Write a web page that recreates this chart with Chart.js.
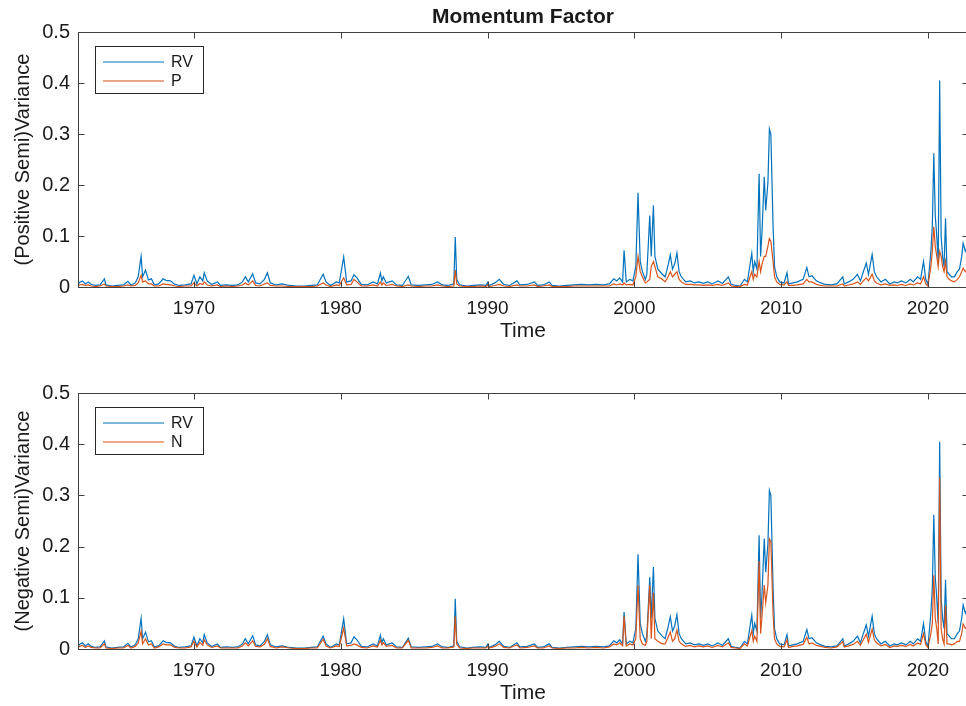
<!DOCTYPE html>
<html>
<head>
<meta charset="utf-8">
<script src="https://cdn.jsdelivr.net/npm/chart.js"></script>
<style>
  body { margin: 0; background: #fff; overflow: hidden; }
  .panel { position: absolute; left: 0; width: 970px; height: 353px; }
</style>
</head>
<body>
<div class="panel" style="top:0"><canvas id="posChart" width="970" height="353"></canvas></div>
<div class="panel" style="top:353px"><canvas id="negChart" width="970" height="353"></canvas></div>

<script>
// monthly momentum factor variance, realized and semi-variances
const years = [
  1962.1, 1962.2, 1962.4, 1962.6, 1962.8, 1963.0, 1963.3, 1963.6, 1963.9, 1964.0, 1964.4, 1964.8, 1965.2, 1965.5, 1965.7, 1966.0,
  1966.2, 1966.4, 1966.5, 1966.7, 1966.9, 1967.1, 1967.3, 1967.6, 1967.9, 1968.1, 1968.4, 1968.7, 1969.0, 1969.4, 1969.8,
  1970.0, 1970.2, 1970.4, 1970.6, 1970.7, 1970.9, 1971.2, 1971.6, 1971.8, 1972.2, 1972.6, 1973.0, 1973.3, 1973.5, 1973.7, 1974.0,
  1974.2, 1974.5, 1974.8, 1975.0, 1975.2, 1975.6, 1976.0, 1976.5, 1977.0, 1977.5, 1978.0, 1978.4, 1978.8, 1979.0, 1979.3, 1979.7, 1979.9,
  1980.2, 1980.4, 1980.7, 1980.9, 1981.1, 1981.4, 1981.8, 1982.2, 1982.5, 1982.7, 1982.8, 1982.9, 1983.1, 1983.5, 1983.8, 1984.2,
  1984.6, 1984.8, 1985.3, 1985.8, 1986.2, 1986.6, 1986.9, 1987.3, 1987.7, 1987.8, 1987.9, 1988.1, 1988.6, 1989.0, 1989.5, 1989.9,
  1990.0, 1990.1, 1990.5, 1990.8, 1991.1, 1991.5, 1992.0, 1992.2, 1992.7, 1993.2, 1993.4, 1993.8, 1994.2, 1994.4, 1994.9,
  1995.4, 1995.9, 1996.4, 1996.9, 1997.4, 1997.9, 1998.3, 1998.6, 1998.8, 1999.0, 1999.2, 1999.3, 1999.45, 1999.7, 1999.9,
  2000.1, 2000.25, 2000.4, 2000.55, 2000.75, 2000.85, 2001.05, 2001.15, 2001.3, 2001.4, 2001.6, 2001.9, 2002.1, 2002.3, 2002.45, 2002.6, 2002.75,
  2002.9, 2003.05, 2003.2, 2003.5, 2003.8, 2004.1, 2004.4, 2004.7, 2005.0, 2005.3, 2005.7, 2006.0, 2006.4, 2006.6, 2006.9, 2007.2, 2007.5,
  2007.7, 2008.0, 2008.1, 2008.2, 2008.35, 2008.5, 2008.6, 2008.7, 2008.85, 2008.95, 2009.1, 2009.2, 2009.3, 2009.45, 2009.55, 2009.7, 2009.9,
  2010.2, 2010.4, 2010.5, 2010.8, 2011.1, 2011.5, 2011.75, 2011.9, 2012.1, 2012.4,
  2012.7, 2013.0, 2013.4, 2013.8, 2014.2, 2014.3, 2014.6, 2014.9, 2015.2, 2015.4,
  2015.6, 2015.8, 2015.95, 2016.2, 2016.35, 2016.5, 2016.8, 2017.1, 2017.4, 2017.7,
  2017.9, 2018.2, 2018.5, 2018.8, 2019.0, 2019.3, 2019.5, 2019.7, 2019.85, 2020.0,
  2020.2, 2020.3, 2020.4, 2020.5, 2020.6, 2020.7, 2020.8, 2020.9, 2021.0, 2021.1,
  2021.2, 2021.3, 2021.45, 2021.6, 2021.8, 2022.0, 2022.15, 2022.3, 2022.4, 2022.55, 2022.7
];

const rv = [
  .004, .009, .012, .006, .010, .005, .003, .004, .016, .004, .002, .003, .004, .011, .004, .008,
  .020, .060, .020, .033, .014, .016, .004, .006, .016, .013, .012, .005, .003, .004, .006,
  .023, .006, .020, .012, .028, .012, .005, .010, .003, .004, .003, .004, .010, .020, .010, .026,
  .008, .006, .015, .028, .008, .004, .006, .003, .002, .002, .003, .004, .025, .010, .003, .010, .008,
  .059, .010, .012, .024, .018, .005, .004, .010, .006, .027, .012, .020, .008, .012, .004, .003,
  .021, .004, .003, .004, .005, .010, .004, .003, .006, .098, .015, .004, .002, .003, .004, .003,
  .009, .003, .008, .015, .005, .003, .012, .004, .005, .010, .003, .004, .010, .003, .002,
  .003, .004, .005, .004, .005, .004, .006, .016, .012, .018, .010, .072, .010, .015, .012,
  .040, .185, .050, .030, .015, .025, .140, .060, .160, .060, .035, .025, .020, .043, .063, .035, .045,
  .067, .030, .020, .010, .012, .008, .010, .007, .010, .006, .012, .007, .020, .005, .003, .002, .015,
  .010, .066, .030, .050, .035, .222, .060, .110, .216, .150, .205, .310, .300, .120, .040, .020, .010,
  .008, .028, .006, .008, .010, .015, .038, .020, .022, .012,
  .008, .005, .004, .006, .020, .006, .010, .015, .025, .012,
  .030, .047, .025, .064, .030, .020, .010, .015, .006, .010,
  .008, .012, .008, .015, .010, .020, .015, .050, .015, .005,
  .070, .120, .262, .140, .100, .050, .405, .100, .060, .040,
  .135, .030, .025, .020, .020, .030, .035, .060, .086, .070, .080
];

const posSemi = [
  .002, .004, .005, .003, .004, .002, .001, .002, .006, .002, .001, .001, .002, .004, .002, .003,
  .008, .023, .010, .012, .006, .006, .002, .002, .006, .005, .004, .002, .001, .002, .002,
  .008, .002, .007, .005, .010, .004, .002, .004, .001, .002, .001, .002, .004, .008, .004, .012,
  .003, .002, .006, .008, .003, .002, .002, .001, .001, .001, .001, .002, .008, .004, .001, .004, .003,
  .018, .004, .005, .015, .010, .002, .002, .004, .002, .010, .004, .008, .003, .005, .002, .001,
  .004, .002, .001, .002, .002, .004, .002, .001, .002, .033, .006, .002, .001, .001, .002, .001,
  .004, .001, .003, .005, .002, .001, .004, .002, .002, .004, .001, .002, .004, .001, .001,
  .001, .002, .002, .002, .002, .002, .002, .006, .004, .006, .004, .008, .004, .005, .004,
  .020, .060, .030, .020, .008, .010, .015, .040, .050, .040, .020, .015, .010, .020, .030, .020, .025,
  .030, .015, .010, .005, .005, .004, .004, .003, .004, .003, .005, .003, .008, .002, .001, .001, .005,
  .004, .030, .015, .025, .020, .050, .030, .045, .060, .060, .080, .095, .090, .050, .020, .010, .005,
  .004, .010, .003, .003, .004, .006, .015, .010, .010, .005,
  .003, .002, .002, .002, .006, .002, .004, .006, .010, .005,
  .012, .018, .012, .025, .012, .008, .004, .006, .003, .004,
  .003, .005, .003, .006, .004, .008, .006, .020, .006, .002,
  .040, .070, .118, .080, .060, .040, .070, .060, .040, .030,
  .050, .020, .015, .012, .010, .015, .020, .030, .037, .030, .035
];

const negSemi = [
  .002, .005, .007, .003, .006, .003, .002, .002, .010, .002, .001, .002, .002, .007, .002, .005,
  .012, .035, .010, .020, .008, .010, .002, .004, .010, .008, .008, .003, .002, .002, .004,
  .015, .004, .013, .007, .018, .008, .003, .006, .002, .002, .002, .002, .006, .012, .006, .016,
  .005, .004, .009, .020, .005, .002, .004, .002, .001, .001, .002, .002, .019, .006, .002, .006, .005,
  .041, .006, .007, .010, .008, .003, .002, .006, .004, .017, .008, .012, .005, .007, .002, .002,
  .017, .002, .002, .002, .003, .006, .002, .002, .004, .064, .009, .002, .001, .002, .002, .002,
  .005, .002, .005, .010, .003, .002, .008, .002, .003, .006, .002, .002, .006, .002, .001,
  .002, .002, .003, .002, .003, .002, .004, .010, .008, .012, .006, .064, .006, .010, .008,
  .020, .125, .020, .010, .007, .015, .125, .020, .110, .020, .015, .010, .010, .023, .033, .015, .020,
  .037, .015, .010, .005, .007, .004, .006, .004, .006, .003, .007, .004, .012, .003, .002, .001, .010,
  .006, .036, .015, .025, .015, .172, .030, .065, .125, .090, .125, .215, .210, .070, .020, .010, .005,
  .004, .018, .003, .005, .006, .009, .023, .010, .012, .007,
  .005, .003, .002, .004, .014, .004, .006, .009, .015, .007,
  .018, .029, .013, .039, .018, .012, .006, .009, .003, .006,
  .005, .007, .005, .009, .006, .012, .009, .030, .009, .003,
  .030, .050, .144, .060, .040, .010, .335, .040, .020, .010,
  .085, .010, .010, .008, .010, .015, .015, .030, .049, .040, .045
];

const yearTicks = [1970, 1980, 1990, 2000, 2010, 2020];
const varTicks = [0, 0.1, 0.2, 0.3, 0.4, 0.5];

const BLUE = '#0072BD';
const ORANGE = '#D95319';
const AXIS = '#404040';
const TEXT = '#1a1a1a';
const FONT = "'Liberation Sans', Arial, Helvetica, sans-serif";

const points = arr => years.map((t, i) => ({ x: t, y: arr[i] }));

// box, inward ticks, legend and the text around each axes
const axesDecor = {
  id: 'axesDecor',
  afterDatasetsDraw(chart, args, opts) {
    const { ctx, chartArea: a, scales } = chart;
    const L = Math.round(a.left) + 0.5, R = Math.round(a.right) + 0.5;
    const T = Math.round(a.top) + 0.5, B = Math.round(a.bottom) + 0.5;
    ctx.save();
    ctx.strokeStyle = AXIS;
    ctx.lineWidth = 1;
    ctx.strokeRect(L, T, R - L, B - T);
    ctx.beginPath();
    yearTicks.forEach(v => {
      const x = Math.round(scales.x.getPixelForValue(v)) + 0.5;
      ctx.moveTo(x, B); ctx.lineTo(x, B - 6);
      ctx.moveTo(x, T); ctx.lineTo(x, T + 6);
    });
    varTicks.forEach(v => {
      const y = Math.round(scales.y.getPixelForValue(v)) + 0.5;
      ctx.moveTo(L, y); ctx.lineTo(L + 6, y);
      ctx.moveTo(R, y); ctx.lineTo(R - 6, y);
    });
    ctx.stroke();

    // legend
    const bx = 95.5, by = T + 14, bw = 108, bh = 47;
    ctx.fillStyle = '#fff';
    ctx.fillRect(bx, by, bw, bh);
    ctx.strokeStyle = '#262626';
    ctx.strokeRect(bx, by, bw, bh);
    ctx.font = '16px ' + FONT;
    ctx.textBaseline = 'middle';
    ctx.textAlign = 'left';
    opts.legend.forEach((item, i) => {
      const y = Math.round(by + 15 + i * 19);
      ctx.strokeStyle = item.color;
      ctx.lineWidth = 1.2;
      ctx.beginPath();
      ctx.moveTo(103, y); ctx.lineTo(164, y);
      ctx.stroke();
      ctx.fillStyle = TEXT;
      ctx.fillText(item.text, 171, y + 1);
    });

    const cx = (a.left + a.right) / 2;
    ctx.fillStyle = TEXT;
    ctx.textAlign = 'center';
    if (opts.title) {
      ctx.font = 'bold 21px ' + FONT;
      ctx.fillText(opts.title, cx, a.top - 15);
    }
    ctx.font = '21px ' + FONT;
    ctx.fillText('Time', cx, a.bottom + 44);

    ctx.translate(23, (a.top + a.bottom) / 2);
    ctx.rotate(-Math.PI / 2);
    ctx.font = '20px ' + FONT;
    ctx.fillText(opts.yTitle, 0, 0);
    ctx.restore();
  }
};

function varianceChart(id, semi, semiLabel, yTitle, title, top, bottom) {
  return new Chart(document.getElementById(id), {
    type: 'line',
    data: {
      datasets: [
        { label: 'RV', data: points(rv), borderColor: BLUE, borderWidth: 1.2,
          pointRadius: 0, tension: 0, fill: false, order: 1 },
        { label: semiLabel, data: points(semi), borderColor: ORANGE, borderWidth: 1.2,
          pointRadius: 0, tension: 0, fill: false, order: 0 }
      ]
    },
    options: {
      responsive: false,
      animation: false,
      events: [],
      layout: { padding: { top: top, right: 2, left: 0, bottom: 0 } },
      plugins: {
        legend: { display: false },
        tooltip: { enabled: false },
        axesDecor: {
          title: title,
          yTitle: yTitle,
          legend: [{ text: 'RV', color: BLUE }, { text: semiLabel, color: ORANGE }]
        }
      },
      scales: {
        x: {
          type: 'linear',
          min: 1962.1,
          max: 2022.73,
          grid: { display: false, drawTicks: false },
          border: { display: false },
          afterBuildTicks: s => { s.ticks = yearTicks.map(v => ({ value: v })); },
          afterFit: s => { s.height = 353 - bottom; },
          ticks: {
            font: { family: FONT, size: 19 },
            color: TEXT,
            padding: 10,
            maxRotation: 0,
            autoSkip: false,
            callback: v => String(v)
          }
        },
        y: {
          min: 0,
          max: 0.5,
          grid: { display: false, drawTicks: false },
          border: { display: false },
          afterBuildTicks: s => { s.ticks = varTicks.map(v => ({ value: v })); },
          afterFit: s => { s.width = 78; },
          ticks: {
            font: { family: FONT, size: 20 },
            color: TEXT,
            padding: 8,
            callback: v => (v === 0 ? '0' : v.toFixed(1))
          }
        }
      }
    },
    plugins: [axesDecor]
  });
}

varianceChart('posChart', posSemi, 'P', '(Positive Semi)Variance', 'Momentum Factor', 32, 287);
varianceChart('negChart', negSemi, 'N', '(Negative Semi)Variance', null, 40, 296);
</script>
</body>
</html>
